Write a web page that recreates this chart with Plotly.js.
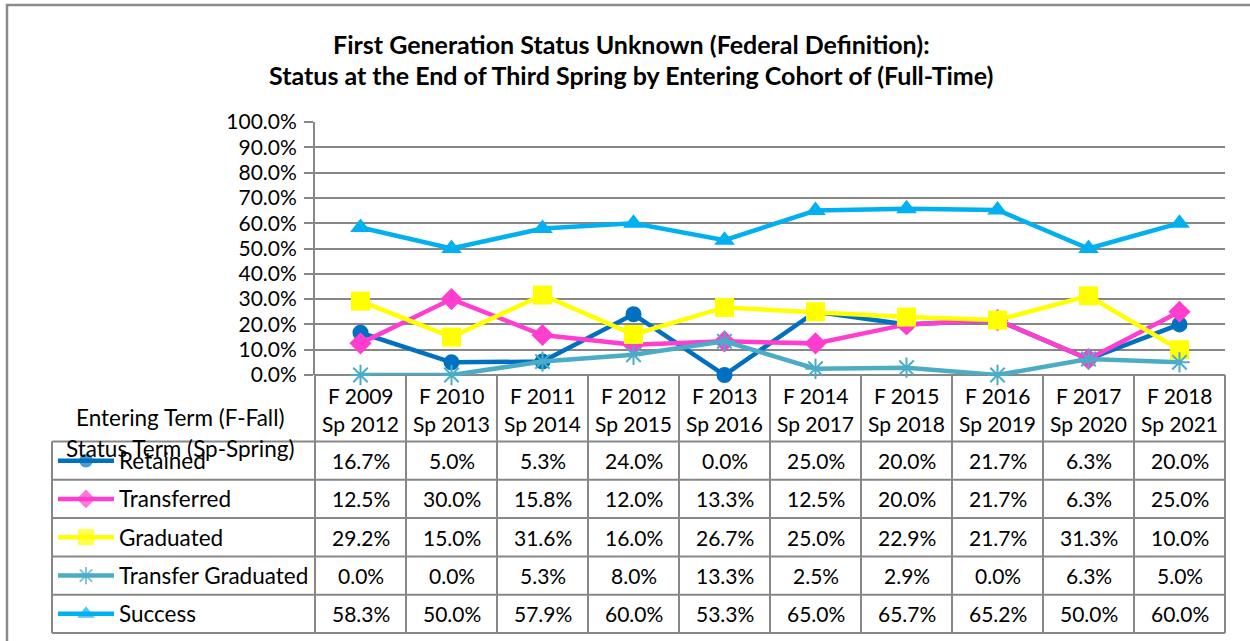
<!DOCTYPE html>
<html>
<head>
<meta charset="utf-8">
<script src="https://cdn.plot.ly/plotly-3.0.1.min.js"></script>
<style>html,body{margin:0;padding:0;background:#fff}#chart{width:1250px;height:641px}</style>
</head>
<body>
<div id="chart"></div>
<script>
// ---------- DATA ----------
const enteringTerms = ['F 2009','F 2010','F 2011','F 2012','F 2013','F 2014','F 2015','F 2016','F 2017','F 2018'];
const statusTerms   = ['Sp 2012','Sp 2013','Sp 2014','Sp 2015','Sp 2016','Sp 2017','Sp 2018','Sp 2019','Sp 2020','Sp 2021'];
const seriesNames = ['Retained','Transferred','Graduated','Transfer Graduated','Success'];
const retained          = [16.7, 5.0, 5.3, 24.0, 0.0, 25.0, 20.0, 21.7, 6.3, 20.0];
const transferred       = [12.5, 30.0, 15.8, 12.0, 13.3, 12.5, 20.0, 21.7, 6.3, 25.0];
const graduated         = [29.2, 15.0, 31.6, 16.0, 26.7, 25.0, 22.9, 21.7, 31.3, 10.0];
const transferGraduated = [0.0, 0.0, 5.3, 8.0, 13.3, 2.5, 2.9, 0.0, 6.3, 5.0];
const success           = [58.3, 50.0, 57.9, 60.0, 53.3, 65.0, 65.7, 65.2, 50.0, 60.0];
const yTickVals = [0,10,20,30,40,50,60,70,80,90,100];
const yTickText = yTickVals.map(v => v.toFixed(1) + '%');
const titleLines = ['First Generation Status Unknown (Federal Definition):',
                    'Status at the End of Third Spring by Entering Cohort of (Full-Time)'];
const rowHeaderLines = ['Entering Term (F-Fall)','Status Term (Sp-Spring)'];

// ---------- STYLE / LAYOUT CONSTANTS ----------
const W = 1250, H = 641;
const FONT = 'Lato, "Open Sans", sans-serif';
const GRID = '#878787';
const NUMFS = 21, TXTFS = 22.5;
const plotL = 315, plotR = 1225, plotT = 122, plotB = 375;
const tableL = 52, headB = 441.5, tableB = 633;
const styles = [
  {color:'#0070C0', symbol:'circle', size:16},
  {color:'#FF3DCF', symbol:'diamond', size:17},
  {color:'#FFFF00', symbol:'square', size:19},
  {color:'#4BACC6', symbol:'asterisk-open', size:17},
  {color:'#00B0F0', symbol:'triangle-up', size:18}
];
const allSeries = [retained, transferred, graduated, transferGraduated, success];

const px = x => x / W;
const py = y => 1 - y / H;
const nCat = enteringTerms.length;
const colW = (plotR - plotL) / nCat;
const rowH = (tableB - headB) / allSeries.length;

// ---------- TRACES ----------
const traces = allSeries.map((vals, i) => ({
  type:'scatter', mode:'lines+markers', name:seriesNames[i],
  x: enteringTerms, y: vals,
  line:{color:styles[i].color, width:4.5},
  marker:{color:styles[i].color, symbol:styles[i].symbol, size:styles[i].size,
          line:{color:styles[i].color, width: styles[i].symbol==='asterisk-open'?2:0}},
  cliponaxis:false, showlegend:false, hoverinfo:'skip', xaxis:'x', yaxis:'y'
}));

// legend keys inside table (decoration, on a pixel-space overlay axis)
allSeries.forEach((vals, i) => {
  const cy = headB + rowH * (i + 0.5);
  traces.push({
    type:'scatter', mode:'lines+markers', x:[58, 86, 114], y:[cy, cy, cy],
    line:{color:styles[i].color, width:4.5},
    marker:{color:styles[i].color, symbol:styles[i].symbol, size:[0, styles[i].size*0.85, 0],
            line:{color:styles[i].color, width: styles[i].symbol==='asterisk-open'?2:0}},
    cliponaxis:false, showlegend:false, hoverinfo:'skip', xaxis:'x2', yaxis:'y2'
  });
});

// ---------- SHAPES (table grid + outer border) ----------
const shapes = [];
const line = (x0,y0,x1,y1,w) => shapes.push({type:'line', xref:'paper', yref:'paper',
  x0:px(x0), y0:py(y0), x1:px(x1), y1:py(y1), line:{color:GRID, width:w||2}});
shapes.push({type:'rect', xref:'paper', yref:'paper', x0:px(7), y0:py(5), x1:px(1300), y1:py(700),
  line:{color:'#8a8a8a', width:2.5}});
for (let k = 0; k <= nCat; k++) {
  const x = plotL + colW * k;
  line(x, plotB, x, tableB);
}
line(tableL, headB, tableL, tableB);
for (let r = 0; r <= allSeries.length; r++) {
  const y = headB + rowH * r;
  line(tableL, y, plotR, y);
}

// ---------- ANNOTATIONS ----------
const ann = [];
titleLines.forEach((t, i) => ann.push({xref:'paper', yref:'paper', x:px(631), y:py(44 + 31*i),
  text:'<b>'+t+'</b>', showarrow:false, xanchor:'center', yanchor:'middle',
  font:{family:FONT, size:25, color:'#000'}}));
rowHeaderLines.forEach((t, i) => ann.push({xref:'paper', yref:'paper', x:px(180), y:py(418 + 30*i),
  text:t, showarrow:false, xanchor:'center', yanchor:'middle', font:{family:FONT, size:TXTFS, color:'#000'}}));
enteringTerms.forEach((c, j) => {
  ann.push({xref:'x', yref:'paper', x:c, y:py(395), text:c, showarrow:false,
    xanchor:'center', yanchor:'middle', font:{family:FONT, size:NUMFS, color:'#000'}});
  ann.push({xref:'x', yref:'paper', x:c, y:py(423), text:statusTerms[j], showarrow:false,
    xanchor:'center', yanchor:'middle', font:{family:FONT, size:NUMFS, color:'#000'}});
});
allSeries.forEach((vals, i) => {
  const cy = headB + rowH * (i + 0.5);
  ann.push({xref:'paper', yref:'paper', x:px(117), y:py(cy), text:seriesNames[i], showarrow:false,
    xanchor:'left', yanchor:'middle', font:{family:FONT, size:TXTFS, color:'#000'}});
  vals.forEach((v, j) => ann.push({xref:'x', yref:'paper', x:enteringTerms[j], y:py(cy),
    text:v.toFixed(1)+'%', showarrow:false, xanchor:'center', yanchor:'middle',
    font:{family:FONT, size:NUMFS, color:'#000'}}));
});

const layout = {
  width:W, height:H, margin:{l:0, r:0, t:0, b:0},
  paper_bgcolor:'#fff', plot_bgcolor:'rgba(0,0,0,0)',
  showlegend:false,
  xaxis:{domain:[px(plotL), px(plotR)], type:'category', range:[-0.5, nCat-0.5],
         showgrid:false, zeroline:false, showticklabels:false, ticks:'', showline:false, fixedrange:true},
  yaxis:{domain:[py(plotB), py(plotT)], range:[0,100], tickmode:'array', tickvals:yTickVals, ticktext:yTickText,
         showgrid:true, gridcolor:GRID, gridwidth:2,
         zeroline:true, zerolinecolor:GRID, zerolinewidth:2,
         showline:true, linecolor:GRID, linewidth:2, ticks:'outside', ticklen:9, tickwidth:2, tickcolor:GRID,
         tickfont:{family:FONT, size:NUMFS, color:'#000'}, ticklabelstandoff:3, fixedrange:true},
  xaxis2:{domain:[0,1], range:[0,W], visible:false, fixedrange:true, anchor:'y2'},
  yaxis2:{domain:[0,1], range:[H,0], visible:false, fixedrange:true, anchor:'x2'},
  shapes:shapes, annotations:ann
};
Plotly.newPlot('chart', traces, layout, {staticPlot:true, displayModeBar:false});
</script>
</body>
</html>
